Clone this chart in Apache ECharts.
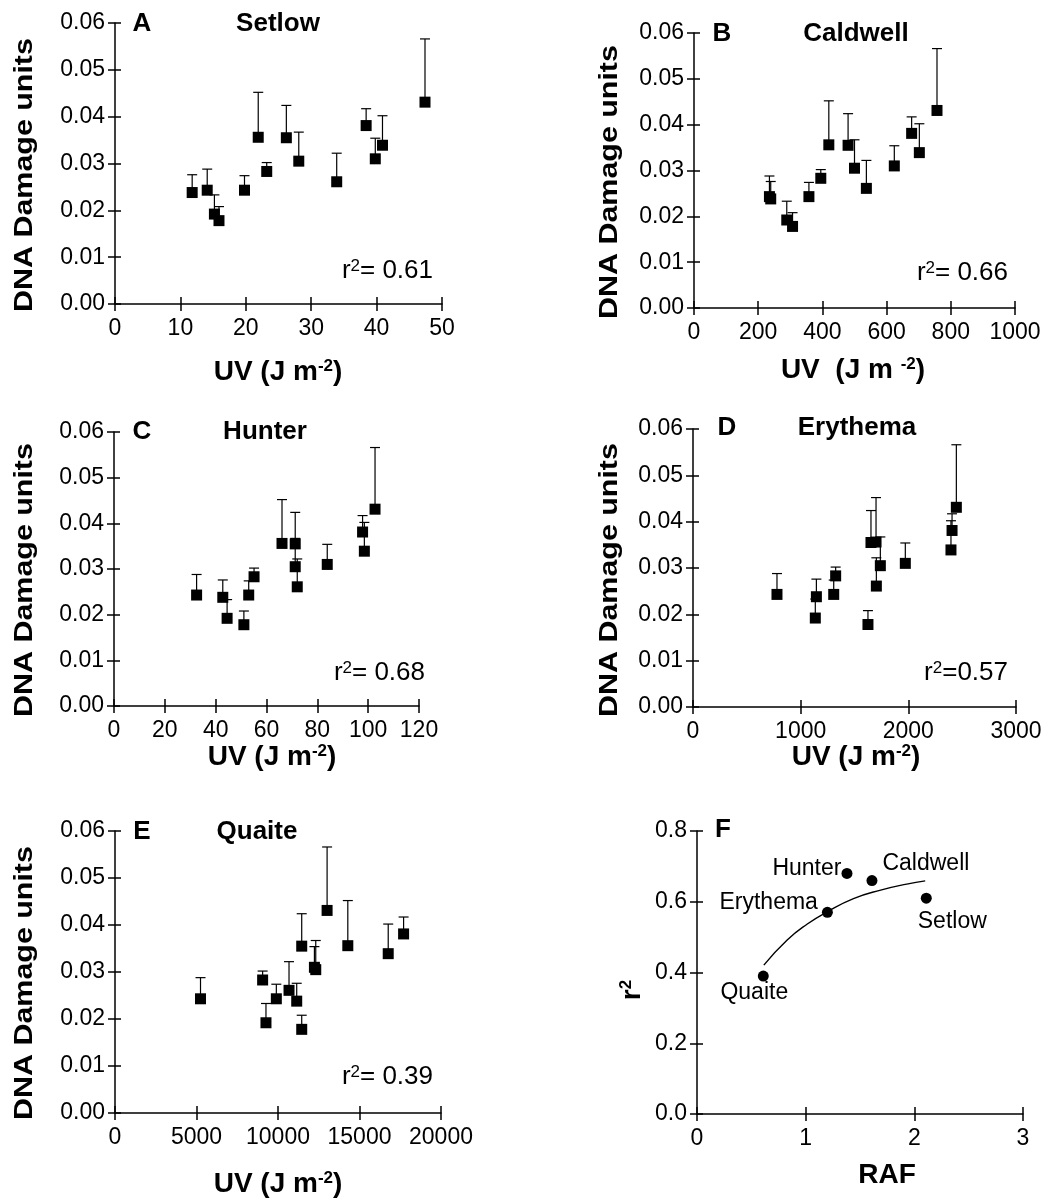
<!DOCTYPE html>
<html>
<head>
<meta charset="utf-8">
<script src="https://cdn.jsdelivr.net/npm/echarts@6/dist/echarts.min.js"></script>
<style>
  html, body { margin: 0; padding: 0; background: #fff; }
  #chart { width: 1047px; height: 1199px; }
</style>
</head>
<body>
<div id="chart"></div>
<script>
// DNA damage of the same 14 samples (shown in panels A-E) and top of the error bar
const damage      = [0.0238, 0.0243, 0.0192, 0.0178, 0.0243, 0.0356, 0.0283, 0.0355, 0.0305, 0.0261, 0.0381, 0.0310, 0.0339, 0.0431];
const damageUpper = [0.0276, 0.0288, 0.0233, 0.0208, 0.0274, 0.0452, 0.0302, 0.0424, 0.0367, 0.0322, 0.0417, 0.0354, 0.0402, 0.0566];

// weighted UV dose of each sample for every action spectrum (J m-2)
const uvSetlow   = [11.8, 14.1, 15.2, 15.9, 19.8, 21.9, 23.2, 26.2, 28.1, 33.9, 38.4, 39.8, 40.9, 47.4];
const uvCaldwell = [239, 235, 289, 307, 358, 420, 395, 480, 500, 537, 678, 624, 702, 757];
const uvHunter   = [42.8, 32.5, 44.5, 51.1, 53.0, 66.1, 55.1, 71.3, 71.3, 72.1, 97.8, 83.9, 98.5, 102.7];
const uvErythema = [1146, 780, 1136, 1625, 1307, 1700, 1325, 1653, 1740, 1703, 2406, 1972, 2396, 2446];
const uvQuaite   = [11148, 5246, 9262, 11455, 9898, 14283, 9057, 11455, 12316, 10676, 17705, 12234, 16762, 13012];

// panel F: r2 of each spectrum against its RAF, plus the fitted curve
const spectra  = ["Setlow", "Caldwell", "Hunter", "Erythema", "Quaite"];
const raf      = [2.11, 1.61, 1.38, 1.20, 0.61];
const rSquared = [0.61, 0.66, 0.68, 0.57, 0.39];
const fitRaf   = [0.615, 0.83, 1.015, 1.20, 1.44, 1.69, 1.93, 2.10];
const fitR2    = [0.421, 0.492, 0.537, 0.572, 0.609, 0.633, 0.650, 0.659];

const FONT = '"Liberation Sans", Arial, sans-serif';
const INK = "#000";

// layout of the six panels
const panels = [
  { letter: "A", title: "Setlow", uv: uvSetlow, r2: "= 0.61", grid: [115, 23, 327, 281], xMax: 50, xStep: 10,
    letterPos: [142, 24], titlePos: [278, 24], r2Pos: [433, 271], xName: "UV (J m", xNamePos: [278, 372], yNamePos: [25, 175] },
  { letter: "B", title: "Caldwell", uv: uvCaldwell, r2: "= 0.66", grid: [694, 33, 321, 275], xMax: 1000, xStep: 200,
    letterPos: [722, 34], titlePos: [856, 34], r2Pos: [1008, 273], xName: "UV  (J m ", xNamePos: [853, 370], yNamePos: [610, 182] },
  { letter: "C", title: "Hunter", uv: uvHunter, r2: "= 0.68", grid: [114, 432, 305, 274], xMax: 120, xStep: 20,
    letterPos: [142, 432], titlePos: [265, 432], r2Pos: [425, 673], xName: "UV (J m", xNamePos: [272, 757], yNamePos: [25, 580] },
  { letter: "D", title: "Erythema", uv: uvErythema, r2: "=0.57", grid: [693, 429, 323, 278], xMax: 3000, xStep: 1000,
    letterPos: [727, 428], titlePos: [857, 428], r2Pos: [1008, 673], xName: "UV (J m", xNamePos: [856, 757], yNamePos: [610, 580] },
  { letter: "E", title: "Quaite", uv: uvQuaite, r2: "= 0.39", grid: [115, 831, 326, 282], xMax: 20000, xStep: 5000,
    letterPos: [142, 832], titlePos: [257, 832], r2Pos: [433, 1077], xName: "UV (J m", xNamePos: [278, 1184], yNamePos: [25, 983] },
  { letter: "F", grid: [697, 831, 326, 283], xMax: 3, xStep: 1, yMax: 0.8, yStep: 0.2, yDec: 1,
    letterPos: [723, 830], rafPos: [887, 1175], yNamePos: [632, 990] }
];

const axisLineStyle = { color: INK, width: 1.5 };
const grids = [], xAxes = [], yAxes = [], series = [], graphics = [];

function errorBar(params, api) {
  const p = api.coord([api.value(0), api.value(1)]);
  const t = api.coord([api.value(0), api.value(2)]);
  const st = { stroke: INK, lineWidth: 1.2 };
  return {
    type: "group",
    children: [
      { type: "line", shape: { x1: p[0], y1: p[1], x2: t[0], y2: t[1] }, style: st },
      { type: "line", shape: { x1: t[0] - 5, y1: t[1], x2: t[0] + 5, y2: t[1] }, style: st }
    ]
  };
}

function text(x, y, str, extra) {
  graphics.push(Object.assign({
    type: "text", x: x, y: y, silent: true,
    style: Object.assign({ text: str, fill: INK, font: "bold 26px " + FONT, textAlign: "center", textVerticalAlign: "middle" }, extra && extra.style)
  }, extra && extra.el));
}

panels.forEach((p, i) => {
  const yMax = p.yMax || 0.06, yStep = p.yStep || 0.01, yDec = p.yDec || 2;
  grids.push({ left: p.grid[0], top: p.grid[1], width: p.grid[2], height: p.grid[3], outerBoundsMode: "none" });

  const bx = { gridIndex: i, type: "value", min: 0, max: p.xMax, interval: p.xStep, position: "bottom", splitLine: { show: false } };
  xAxes.push(Object.assign({}, bx, {
    axisLine: { show: true, onZero: false, lineStyle: axisLineStyle },
    axisTick: { show: true, length: 7, lineStyle: axisLineStyle },
    axisLabel: { margin: 13, fontSize: 23, color: INK, fontFamily: FONT, formatter: (v) => String(v) }
  }));
  xAxes.push(Object.assign({}, bx, {
    axisLine: { show: false }, axisLabel: { show: false },
    axisTick: { show: true, inside: true, length: 7, lineStyle: axisLineStyle }
  }));

  const by = { gridIndex: i, type: "value", min: 0, max: yMax, interval: yStep, position: "left", splitLine: { show: false } };
  yAxes.push(Object.assign({}, by, {
    axisLine: { show: true, onZero: false, lineStyle: axisLineStyle },
    axisTick: { show: true, length: 7, lineStyle: axisLineStyle },
    axisLabel: { margin: 10, fontSize: 23, color: INK, fontFamily: FONT, formatter: (v) => v.toFixed(yDec) }
  }));
  yAxes.push(Object.assign({}, by, {
    axisLine: { show: false }, axisLabel: { show: false },
    axisTick: { show: true, inside: true, length: 6, lineStyle: axisLineStyle }
  }));

  text(p.letterPos[0], p.letterPos[1], p.letter);

  if (p.uv) {
    series.push({
      type: "custom", xAxisIndex: 2 * i, yAxisIndex: 2 * i, silent: true, z: 2,
      data: p.uv.map((u, k) => [u, damage[k], damageUpper[k]]),
      encode: { x: 0, y: [1, 2] }, renderItem: errorBar
    });
    series.push({
      type: "scatter", xAxisIndex: 2 * i, yAxisIndex: 2 * i, silent: true, z: 3,
      data: p.uv.map((u, k) => [u, damage[k]]),
      symbol: "rect", symbolSize: 11, itemStyle: { color: INK, opacity: 1 }
    });

    text(p.titlePos[0], p.titlePos[1], p.title);
    text(p.r2Pos[0], p.r2Pos[1], "{t|r}{s|2}{t|" + p.r2 + "}", {
      style: {
        textAlign: "right", font: "26px " + FONT,
        rich: { t: { fontSize: 26, fontFamily: FONT, fill: INK }, s: { fontSize: 17, fontFamily: FONT, fill: INK, verticalAlign: "top" } }
      }
    });
    text(p.xNamePos[0], p.xNamePos[1], "{t|" + p.xName + "}{s|-2}{t|)}", {
      style: {
        rich: {
          t: { fontSize: 28, fontWeight: "bold", fontFamily: FONT, fill: INK },
          s: { fontSize: 17, fontWeight: "bold", fontFamily: FONT, fill: INK, verticalAlign: "top" }
        }
      }
    });
    text(p.yNamePos[0], p.yNamePos[1], "DNA Damage units", {
      el: { rotation: Math.PI / 2, scaleX: 1.17 },
      style: { font: "bold 26px " + FONT }
    });
  } else {
    // panel F
    const labelPlace = {
      Setlow:   { position: "bottom", distance: 6, offset: [26, 0] },
      Caldwell: { position: "right", distance: 5, offset: [0, -17] },
      Hunter:   { position: "left", distance: 0, offset: [0, -5] },
      Erythema: { position: "left", distance: 4, offset: [0, -10] },
      Quaite:   { position: "bottom", distance: 0, offset: [-9, 0] }
    };
    series.push({
      type: "line", xAxisIndex: 2 * i, yAxisIndex: 2 * i, silent: true, z: 2,
      data: fitRaf.map((x, k) => [x, fitR2[k]]), smooth: 0.5, showSymbol: false,
      lineStyle: { color: INK, width: 1.4, opacity: 1 }
    });
    series.push({
      type: "scatter", xAxisIndex: 2 * i, yAxisIndex: 2 * i, silent: true, z: 3,
      symbol: "circle", symbolSize: 11, itemStyle: { color: INK, opacity: 1 },
      data: spectra.map((name, k) => ({
        name: name, value: [raf[k], rSquared[k]],
        label: Object.assign({ show: true, formatter: "{b}", fontSize: 23, color: INK, opacity: 1, fontFamily: FONT }, labelPlace[name])
      }))
    });
    text(p.rafPos[0], p.rafPos[1], "RAF", { style: { font: "bold 28px " + FONT } });
    text(p.yNamePos[0], p.yNamePos[1], "{t|r}{s|2}", {
      el: { rotation: Math.PI / 2 },
      style: {
        rich: {
          t: { fontSize: 28, fontWeight: "bold", fontFamily: FONT, fill: INK },
          s: { fontSize: 17, fontWeight: "bold", fontFamily: FONT, fill: INK, verticalAlign: "top" }
        }
      }
    });
  }
});

const chart = echarts.init(document.getElementById("chart"), null, { renderer: "canvas" });
chart.setOption({
  backgroundColor: "#fff",
  animation: false,
  grid: grids,
  xAxis: xAxes,
  yAxis: yAxes,
  series: series,
  graphic: { elements: graphics }
});
</script>
</body>
</html>
